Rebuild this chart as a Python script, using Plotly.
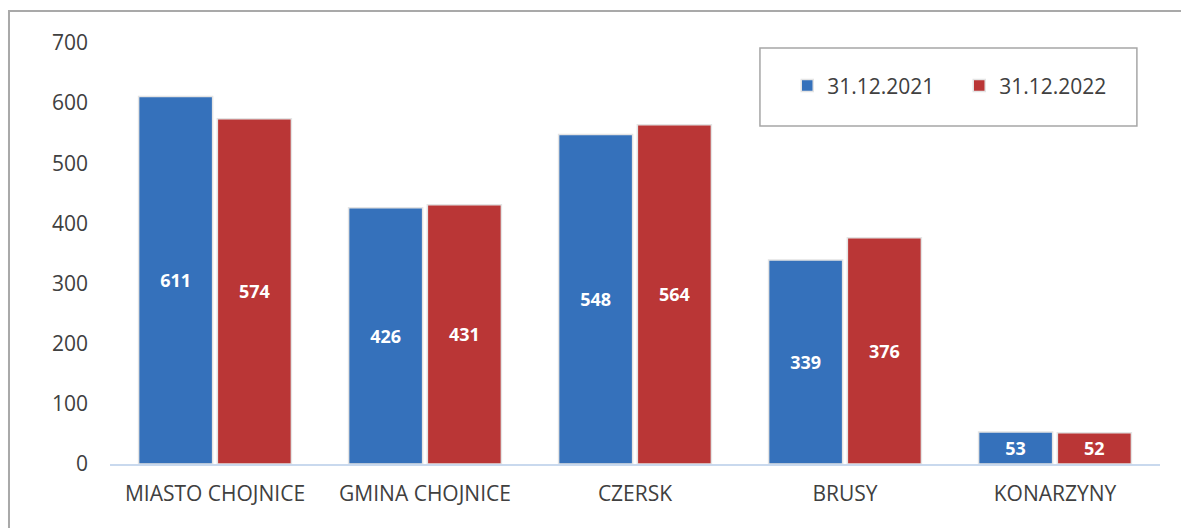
import plotly.graph_objects as go

categories = ["MIASTO CHOJNICE", "GMINA CHOJNICE", "CZERSK", "BRUSY", "KONARZYNY"]
series_names = ["31.12.2021", "31.12.2022"]
values_2021 = [611, 426, 548, 339, 53]
values_2022 = [574, 431, 564, 376, 52]
y_ticks = [0, 100, 200, 300, 400, 500, 600, 700]

colors = ["#3571bb", "#ba3636"]
FONT = "Open Sans"

fig = go.Figure()
for name, vals, col in zip(series_names, [values_2021, values_2022], colors):
    fig.add_trace(go.Bar(
        x=categories, y=vals, name=name,
        marker=dict(color=col, line=dict(color="#e4e4e4", width=1.5)),
        text=[str(v) for v in vals],
        textposition="inside", insidetextanchor="middle", textangle=0,
        constraintext="none",
        textfont=dict(color="white", size=18, family=FONT, weight="bold"),
        cliponaxis=False,
    ))

fig.update_layout(
    width=1181, height=528,
    margin=dict(l=110, r=21, t=43, b=64, autoexpand=False),
    paper_bgcolor="white", plot_bgcolor="white",
    barmode="group", bargap=0.25, bargroupgap=0.06,
    font=dict(family=FONT, color="#404040", size=21),
    showlegend=True,
    legend=dict(orientation="h", x=0.645, xanchor="left", y=0.898, yanchor="middle",
                font=dict(size=21, color="#404040", family=FONT),
                bgcolor="rgba(0,0,0,0)", borderwidth=0, itemwidth=30,
                entrywidth=127, entrywidthmode="pixels",
                traceorder="normal"),
    xaxis=dict(showgrid=False, showline=True, linecolor="#c9d9ee", linewidth=2,
               ticks="", tickfont=dict(size=21, color="#404040"), fixedrange=True,
               ticklabelstandoff=10),
    yaxis=dict(range=[0, 700], tickvals=y_ticks, showgrid=False, showline=False,
               zeroline=False, ticks="", tickfont=dict(size=21, color="#404040"),
               ticklabelstandoff=21),
    shapes=[
        dict(type="rect", xref="paper", yref="paper", x0=-0.0962, x1=1.03, y0=-0.2, y1=1.076,
             line=dict(color="#a9a9a9", width=2), fillcolor="rgba(0,0,0,0)", layer="below"),
        dict(type="rect", xref="paper", yref="paper", x0=0.619, x1=0.978, y0=0.803, y1=0.988,
             line=dict(color="#a6a6a6", width=1.5), fillcolor="rgba(0,0,0,0)"),
    ],
)

fig.write_html("out.html", config={"displayModeBar": False},
               post_script="document.body.style.margin='0';")
